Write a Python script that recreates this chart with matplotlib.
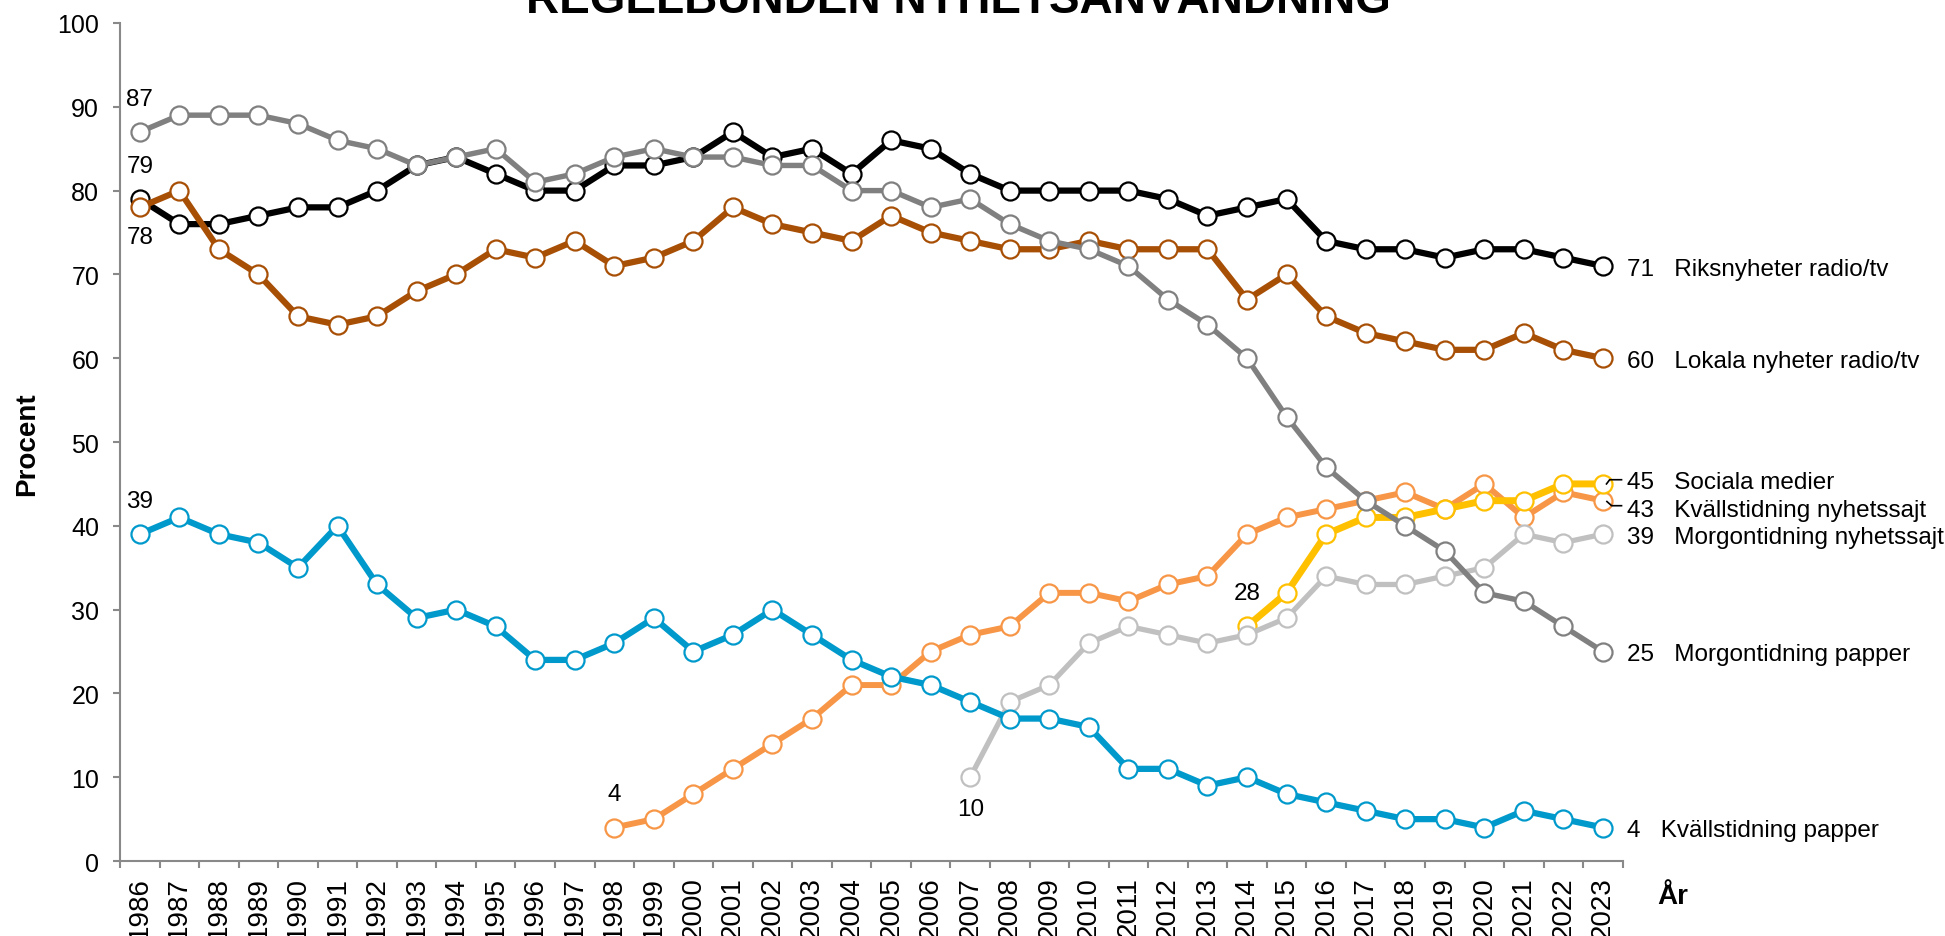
import matplotlib
matplotlib.use('Agg')
import matplotlib.pyplot as plt
import numpy as np

plt.rcParams['font.family'] = ['Liberation Sans', 'DejaVu Sans']

# data
years = list(range(1986, 2024))
riksnyheter = [79, 76, 76, 77, 78, 78, 80, 83, 84, 82, 80, 80, 83, 83, 84, 87, 84, 85, 82, 86,
               85, 82, 80, 80, 80, 80, 79, 77, 78, 79, 74, 73, 73, 72, 73, 73, 72, 71]
lokala = [78, 80, 73, 70, 65, 64, 65, 68, 70, 73, 72, 74, 71, 72, 74, 78, 76, 75, 74, 77,
          75, 74, 73, 73, 74, 73, 73, 73, 67, 70, 65, 63, 62, 61, 61, 63, 61, 60]
morgon_papper = [87, 89, 89, 89, 88, 86, 85, 83, 84, 85, 81, 82, 84, 85, 84, 84, 83, 83, 80, 80,
                 78, 79, 76, 74, 73, 71, 67, 64, 60, 53, 47, 43, 40, 37, 32, 31, 28, 25]
kvall_papper = [39, 41, 39, 38, 35, 40, 33, 29, 30, 28, 24, 24, 26, 29, 25, 27, 30, 27, 24, 22,
                21, 19, 17, 17, 16, 11, 11, 9, 10, 8, 7, 6, 5, 5, 4, 6, 5, 4]
kvall_sajt_years = list(range(1998, 2024))
kvall_sajt = [4, 5, 8, 11, 14, 17, 21, 21, 25, 27, 28, 32, 32, 31, 33, 34, 39, 41, 42, 43,
              44, 42, 45, 41, 44, 43]
morgon_sajt_years = list(range(2007, 2024))
morgon_sajt = [10, 19, 21, 26, 28, 27, 26, 27, 29, 34, 33, 33, 34, 35, 39, 38, 39]
sociala_years = list(range(2014, 2024))
sociala = [28, 32, 39, 41, 41, 42, 43, 43, 45, 45]

fig = plt.figure(figsize=(19.45, 9.37), dpi=100)
ax = fig.add_axes([0.0617, 0.0800, 0.7726, 0.8944])

def draw(x, y, color, lw, z):
    ax.plot(x, y, color=color, lw=lw, marker='o', ms=13, mfc='white', mec=color,
            mew=1.6, zorder=z, clip_on=False, solid_joinstyle='round')

draw(years, riksnyheter, 'black', 4.5, 3)
draw(years, lokala, '#A84F06', 4.5, 4)
draw(kvall_sajt_years, kvall_sajt, '#F79646', 4.3, 5)
draw(sociala_years, sociala, '#FFC000', 5.0, 6)
draw(morgon_sajt_years, morgon_sajt, '#C0C0C0', 3.8, 7)
draw(years, kvall_papper, '#0099CC', 4.5, 8)
draw(years, morgon_papper, '#808080', 3.9, 9)

# start labels
def start_label(x, v, dy):
    ax.annotate(str(v), (x, v), xytext=(0, dy), textcoords='offset points',
                ha='center', va='center', fontsize=17.5, zorder=10)

start_label(years[0], morgon_papper[0], 24)
start_label(years[0], riksnyheter[0], 24)
start_label(years[0], lokala[0], -21)
start_label(years[0], kvall_papper[0], 24)
start_label(kvall_sajt_years[0], kvall_sajt[0], 24)
start_label(morgon_sajt_years[0], morgon_sajt[0], -23)
start_label(sociala_years[0], sociala[0], 24)

# end labels
end_x = 2023.6
ends = [
    (riksnyheter[-1], riksnyheter[-1], 'Riksnyheter radio/tv'),
    (lokala[-1], lokala[-1], 'Lokala nyheter radio/tv'),
    (sociala[-1], 45.5, 'Sociala medier'),
    (kvall_sajt[-1], 42.2, 'Kvällstidning nyhetssajt'),
    (morgon_sajt[-1], morgon_sajt[-1], 'Morgontidning nyhetssajt'),
    (morgon_papper[-1], morgon_papper[-1], 'Morgontidning papper'),
    (kvall_papper[-1], kvall_papper[-1], 'Kvällstidning papper'),
]
for v, ypos, name in ends:
    ax.text(end_x, ypos, f'{v}   {name}', ha='left', va='center_baseline',
            fontsize=17.5, clip_on=False)

# leader lines for the two close labels
ax.plot([2023.09, 2023.17, 2023.47], [45.0, 45.5, 45.5], color='black', lw=1.2,
        zorder=11, clip_on=False)
ax.plot([2023.10, 2023.22, 2023.47], [42.9, 42.4, 42.4], color='black', lw=1.2,
        zorder=11, clip_on=False)

# axes
ax.set_xlim(1985.5, 2023.5)
ax.set_ylim(0, 100)
ax.set_yticks(np.arange(0, 101, 10))
ax.set_xticks(years)
ax.set_xticklabels([str(y) for y in years], rotation=90)
ax.set_xticks(np.arange(1985.5, 2024, 1), minor=True)
for s in ['top', 'right']:
    ax.spines[s].set_visible(False)
for s in ['left', 'bottom']:
    ax.spines[s].set_color('#898989')
    ax.spines[s].set_linewidth(1.5)
ax.tick_params(axis='y', length=5, width=1.5, color='#898989', labelsize=18, pad=10)
ax.tick_params(axis='x', which='major', length=0, labelsize=20, pad=11)
ax.tick_params(axis='x', which='minor', length=5, width=1.5, color='#898989')

fig.text(27 / 1945, 1 - 444 / 937, 'Procent', rotation=90, fontweight='bold',
         fontsize=20, ha='center', va='center')
fig.text(1657 / 1945, 1 - 904 / 937, 'År', fontweight='bold', fontsize=20,
         ha='left', va='baseline')
fig.text(958 / 1945, 1 - 13 / 937, 'REGELBUNDEN NYHETSANVÄNDNING', ha='center',
         va='baseline', fontsize=33, fontweight='bold')

fig.savefig('out.png', dpi=100)
